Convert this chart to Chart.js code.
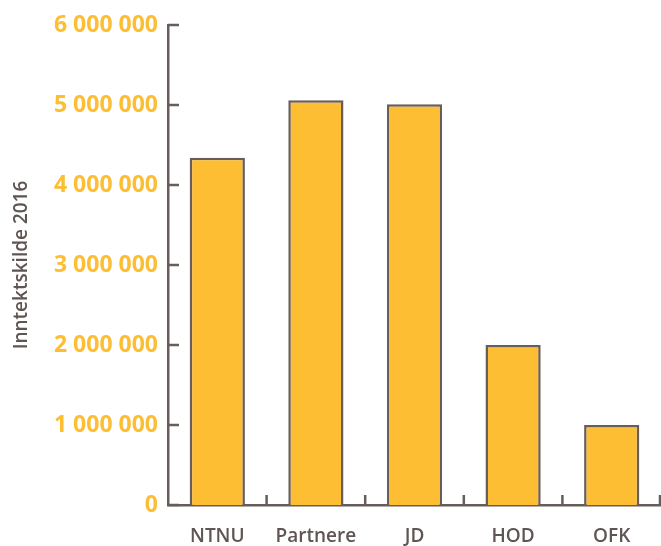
<!DOCTYPE html>
<html>
<head>
<meta charset="utf-8">
<script src="https://cdn.jsdelivr.net/npm/chart.js@4"></script>
<style>
  html, body { margin: 0; padding: 0; background: #fff; }
  #wrap { width: 661px; height: 546px; }
</style>
</head>
<body>
<div id="wrap"><canvas id="chart"></canvas></div>
<script>
// kilder og beløp (lest av figuren)
const kilder = ["NTNU", "Partnere", "JD", "HOD", "OFK"];
const belop = [4340000, 5060000, 5010000, 2000000, 1000000];
const yTicks = [0, 1000000, 2000000, 3000000, 4000000, 5000000, 6000000];

const gul = "#FDBE33";
const gra = "#675D5A";
const tekst = "#5F5552";

// tick-merker som peker innover i plottet
const innTicks = {
  id: "innTicks",
  afterDatasetsDraw(chart) {
    const { ctx, chartArea, scales } = chart;
    const x = scales.x, y = scales.y;
    ctx.save();
    ctx.strokeStyle = gra;
    ctx.lineWidth = 2.5;
    ctx.beginPath();
    yTicks.forEach((v) => {
      const py = y.getPixelForValue(v);
      ctx.moveTo(chartArea.left, py);
      ctx.lineTo(chartArea.left + 11, py);
    });
    for (let i = 1; i <= kilder.length; i++) {
      const px = i < kilder.length
        ? (x.getPixelForValue(i - 1) + x.getPixelForValue(i)) / 2
        : chartArea.right - 1;
      ctx.moveTo(px, chartArea.bottom);
      ctx.lineTo(px, chartArea.bottom - 10);
    }
    ctx.stroke();
    ctx.restore();
  },
};

const ctx = document.getElementById("chart").getContext("2d");

new Chart(ctx, {
  type: "bar",
  data: {
    labels: kilder,
    datasets: [
      {
        label: "Inntektskilde 2016",
        data: belop,
        backgroundColor: gul,
        borderColor: gra,
        borderWidth: 2.5,
        categoryPercentage: 1,
        barPercentage: 0.56,
      },
    ],
  },
  options: {
    responsive: true,
    maintainAspectRatio: false,
    animation: false,
    layout: { padding: { top: 25, right: 0, bottom: 0, left: 0 } },
    plugins: {
      legend: { display: false },
      tooltip: { enabled: false },
    },
    scales: {
      x: {
        grid: { display: false, drawTicks: false },
        border: { color: gra, width: 2.5 },
        ticks: {
          color: tekst,
          padding: 20,
          font: { family: "Open Sans", size: 19, weight: "600" },
        },
        afterFit: (s) => { s.height = 41; },
      },
      y: {
        min: 0,
        max: 6000000,
        afterBuildTicks: (s) => { s.ticks = yTicks.map((v) => ({ value: v })); },
        grid: { display: false, drawTicks: false },
        border: { color: gra, width: 2.5 },
        ticks: {
          color: gul,
          padding: 10,
          font: { family: "Open Sans", size: 23, weight: "bold" },
          callback: (v) => String(v).replace(/\B(?=(\d{3})+(?!\d))/g, " "),
        },
        title: {
          display: true,
          text: "Inntektskilde 2016",
          color: tekst,
          padding: { top: 10, bottom: 0 },
          font: { family: "Open Sans", size: 19, weight: "600" },
        },
        afterFit: (s) => { s.width = 168; },
      },
    },
  },
  plugins: [innTicks],
});
</script>
</body>
</html>
